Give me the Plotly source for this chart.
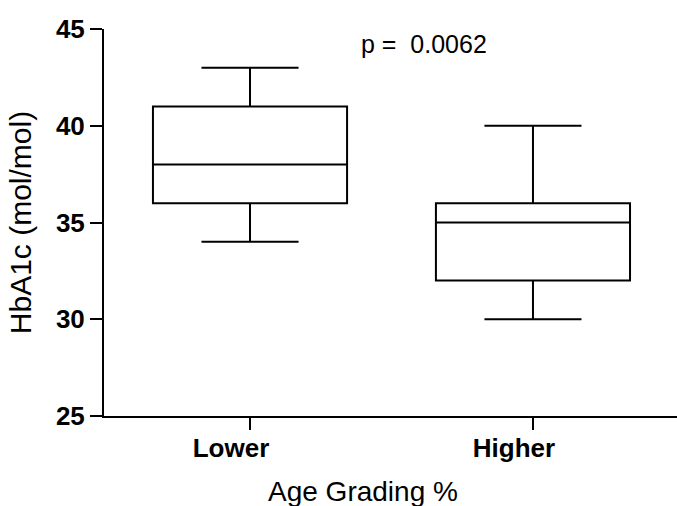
import plotly.graph_objects as go

categories = ["Lower", "Higher"]
lower_fence = [34, 30]
q1_vals = [36, 32]
median_vals = [38, 35]
q3_vals = [41, 36]
upper_fence = [43, 40]
p_text = "p =  0.0062"
x_title = "Age Grading %"
y_title = "HbA1c (mol/mol)"

fig = go.Figure()
for i, cat in enumerate(categories):
    fig.add_trace(go.Box(
        x=[cat],
        q1=[q1_vals[i]], median=[median_vals[i]], q3=[q3_vals[i]],
        lowerfence=[lower_fence[i]], upperfence=[upper_fence[i]],
        width=0.686, whiskerwidth=0.5,
        line=dict(color="black", width=2),
        fillcolor="white",
        showlegend=False,
        hoverinfo="skip",
    ))

font_family = "Liberation Sans, Arial, sans-serif"

fig.update_layout(
    width=677, height=506,
    margin=dict(l=104, r=0, t=29, b=90),
    paper_bgcolor="white", plot_bgcolor="white",
    font=dict(family=font_family, color="black"),
    xaxis=dict(
        type="category",
        categoryorder="array", categoryarray=categories,
        range=[-0.516, 1.509],
        automargin=False,
        showline=True, linecolor="black", linewidth=2,
        ticks="outside", ticklen=12, tickwidth=2, tickcolor="black",
        tickfont=dict(size=26, weight="bold"),
        ticklabelshift=-19,
        ticklabelstandoff=-4,
        showgrid=False, zeroline=False,
    ),
    yaxis=dict(
        range=[25, 45],
        tickvals=[25, 30, 35, 40, 45],
        automargin=False,
        showline=True, linecolor="black", linewidth=2,
        ticks="outside", ticklen=12, tickwidth=2, tickcolor="black",
        tickfont=dict(size=26, weight="bold"),
        showgrid=False, zeroline=False,
        title=dict(text=y_title, font=dict(size=30)),
    ),
    annotations=[
        dict(
            text=p_text, x=0.5585, xref="paper", y=44.2, yref="y",
            xanchor="center", yanchor="middle", showarrow=False,
            font=dict(size=25),
        ),
        dict(
            text=x_title, x=0.452, xref="paper", y=-0.194, yref="paper",
            xanchor="center", yanchor="middle", showarrow=False,
            font=dict(size=28),
        ),
    ],
)

fig.write_html(
    "out.html",
    config={"displayModeBar": False},
    post_script="document.body.style.margin='0';document.body.style.overflow='hidden';",
)
